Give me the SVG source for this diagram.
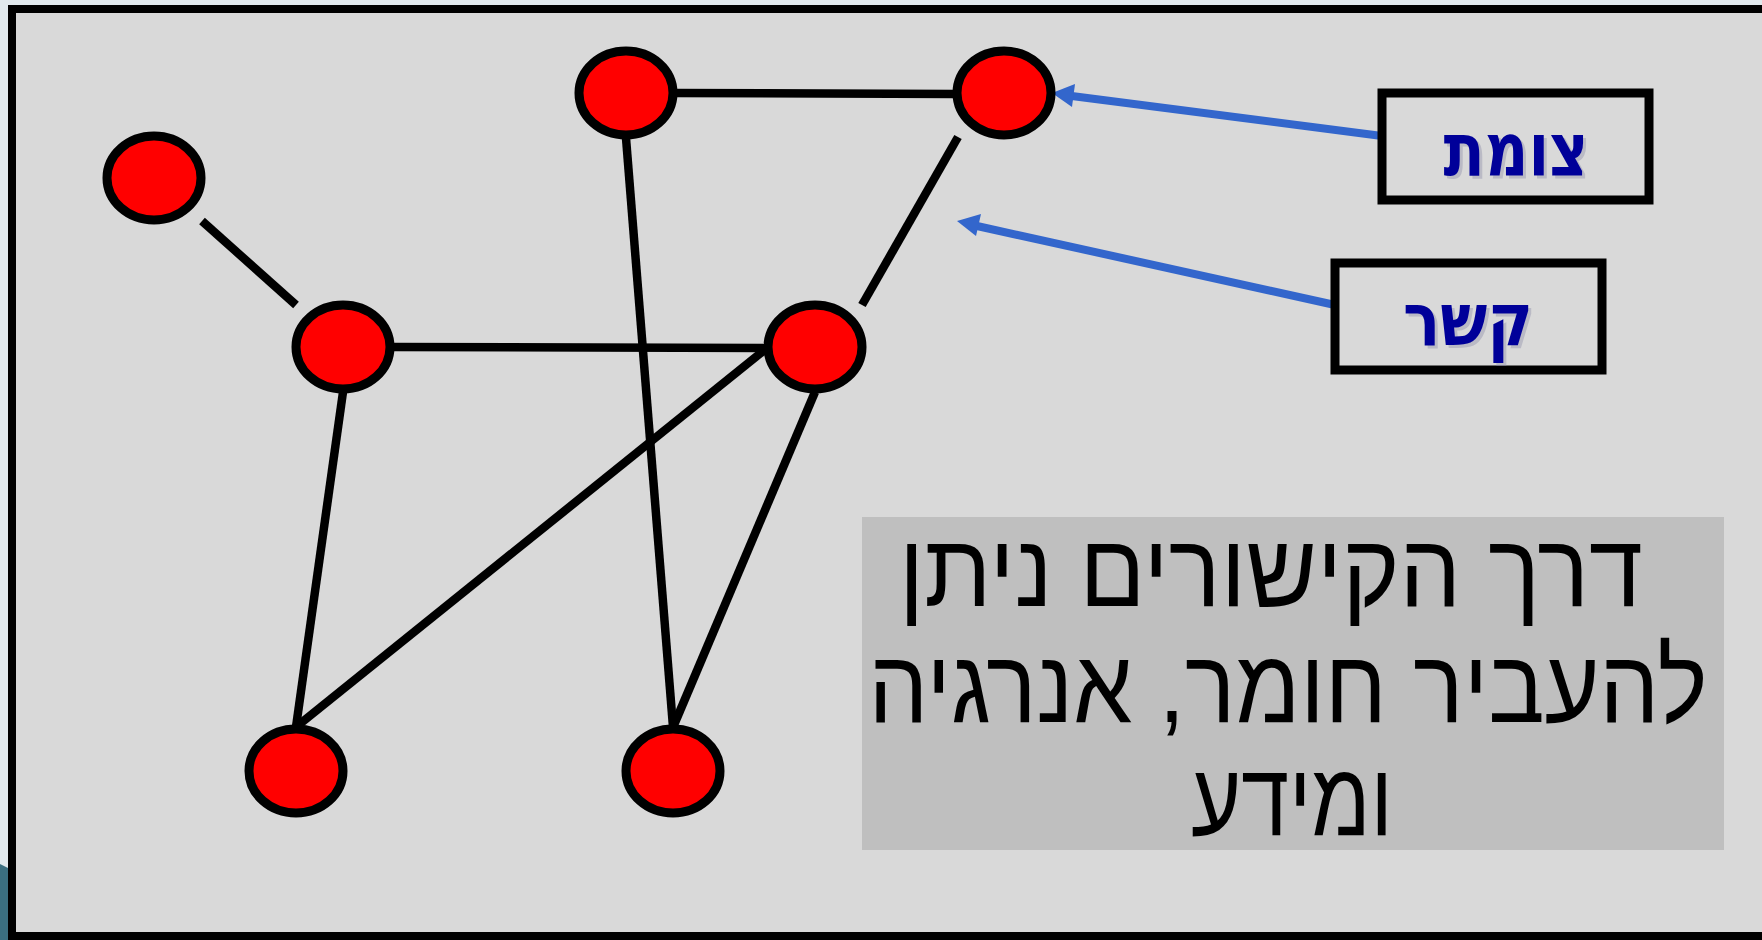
<svg xmlns="http://www.w3.org/2000/svg" width="1762" height="940" viewBox="0 0 1762 940">
<defs>
<style>
.node{fill:#ff0000;stroke:#000;stroke-width:9px}
.edge{stroke:#000;stroke-width:8.5px;fill:none}
.ptr{stroke:#3366cc;stroke-width:8px;fill:none}
.lbox{fill:none;stroke:#000;stroke-width:9px}
.lbl{font-family:"DejaVu Sans","Liberation Sans",sans-serif;font-weight:bold;font-size:74px;fill:#000099;text-anchor:middle}
.lsh{font-family:"DejaVu Sans","Liberation Sans",sans-serif;font-weight:bold;font-size:74px;fill:#8c8ca8;opacity:0.4;text-anchor:middle}
.big{font-family:"Liberation Sans","DejaVu Sans",sans-serif;font-size:104px;fill:#000;text-anchor:middle}
</style>
<marker id="ah" viewBox="0 0 10 10" refX="10" refY="5" markerWidth="24" markerHeight="24" orient="auto" markerUnits="userSpaceOnUse">
<path d="M0,0 L10,5 L0,10 z" fill="#3366cc"/>
</marker>
</defs>
<rect x="0" y="0" width="1762" height="940" fill="#e1e9ed"/>
<polygon points="0,864 8,868 8,940 0,940" fill="#3b6f80"/>
<rect x="12" y="9" width="1760" height="927" fill="#d9d9d9" stroke="#000" stroke-width="8"/>
<g id="connectors">
<line class="edge" stroke-width="8.5" x1="202" y1="221" x2="296" y2="305"/>
<line class="edge" stroke-width="8.5" x1="674" y1="93" x2="955" y2="94"/>
<line class="edge" stroke-width="8.5" x1="958" y1="137" x2="862" y2="305"/>
<line class="edge" stroke-width="8.5" x1="392" y1="347" x2="767" y2="348"/>
<line class="edge" stroke-width="8.5" x1="626" y1="138" x2="673" y2="727"/>
<line class="edge" stroke-width="8.5" x1="815" y1="392" x2="674" y2="725"/>
<line class="edge" stroke-width="8.5" x1="767" y1="348" x2="296" y2="727"/>
<line class="edge" stroke-width="8.5" x1="343" y1="392" x2="296" y2="727"/>
<line class="ptr" stroke-width="8" x1="1382" y1="136" x2="1064" y2="95"/>
<path d="M1052,93 L1075,84 L1072,107 z" fill="#3366cc"/>
<line class="ptr" stroke-width="8" x1="1335" y1="305" x2="968" y2="224"/>
<path d="M957,221 L981,214 L976,236 z" fill="#3366cc"/>
</g>
<g id="n1"><ellipse class="node" cx="154" cy="178" rx="47" ry="42"/></g>
<g id="n2"><ellipse class="node" cx="626" cy="93" rx="47" ry="42"/></g>
<g id="n3"><ellipse class="node" cx="1004" cy="93" rx="47" ry="42"/></g>
<g id="n4"><ellipse class="node" cx="343" cy="347" rx="47" ry="42"/></g>
<g id="n5"><ellipse class="node" cx="815" cy="347" rx="47" ry="42"/></g>
<g id="n6"><ellipse class="node" cx="296" cy="771" rx="47" ry="42"/></g>
<g id="n7"><ellipse class="node" cx="673" cy="771" rx="47" ry="42"/></g>
<g id="label-node">
<rect class="lbox" x="1382" y="93" width="267" height="107"/>
<text class="lsh" x="1519" y="178" textLength="145" lengthAdjust="spacingAndGlyphs">צומת</text>
<text class="lbl" x="1516" y="175" textLength="145" lengthAdjust="spacingAndGlyphs">צומת</text>
</g>
<g id="label-link">
<rect class="lbox" x="1335" y="263" width="267" height="107"/>
<text class="lsh" x="1471" y="348" textLength="130" lengthAdjust="spacingAndGlyphs">קשר</text>
<text class="lbl" x="1468" y="345" textLength="130" lengthAdjust="spacingAndGlyphs">קשר</text>
</g>
<g id="info">
<rect x="862" y="517" width="862" height="333" fill="#bfbfbf"/>
<text class="big" x="1271" y="606" textLength="744" lengthAdjust="spacingAndGlyphs">דרך הקישורים ניתן</text>
<text class="big" x="1288" y="722" textLength="839" lengthAdjust="spacingAndGlyphs">להעביר חומר, אנרגיה</text>
<text class="big" x="1292" y="835" textLength="202" lengthAdjust="spacingAndGlyphs">ומידע</text>
</g>
</svg>
